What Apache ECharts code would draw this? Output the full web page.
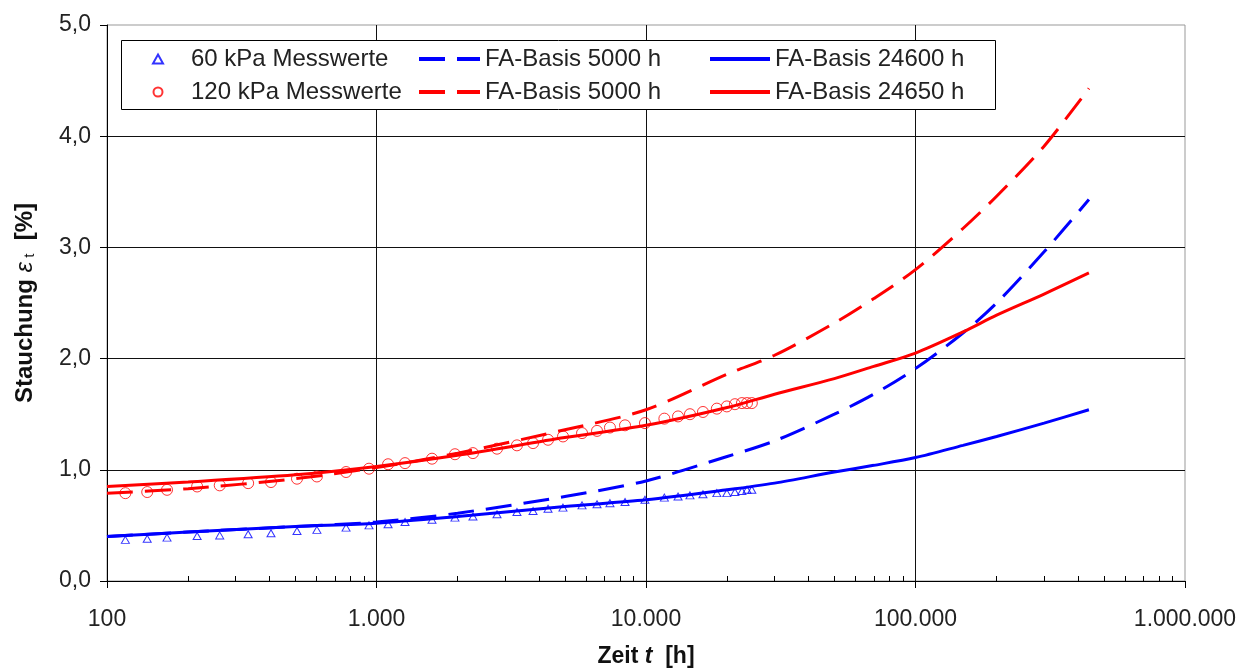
<!DOCTYPE html>
<html>
<head>
<meta charset="utf-8">
<title>Stauchung</title>
<script src="https://cdn.jsdelivr.net/npm/echarts@6.0.0/dist/echarts.min.js"></script>
<style>
  html, body { margin: 0; padding: 0; background: #fff; }
  #main { width: 1252px; height: 671px; }
</style>
</head>
<body>
<div id="main"></div>
<script>
// Messzeitpunkte [h]
var tMess = [117, 141, 167, 216, 262, 334, 406, 507, 601, 771, 938, 1104,
  1276, 1607, 1955, 2280, 2800, 3320, 3810, 4330, 4920, 5790, 6580, 7350, 8360, 9910,
  11700, 13150, 14560, 16270, 18320, 19950, 21380, 22700, 23700, 24700]
// Messwerte Stauchung [%]
var mess60 = [0.37, 0.38, 0.39, 0.405, 0.41, 0.42, 0.43, 0.45, 0.46, 0.48, 0.50, 0.51,
  0.53, 0.55, 0.57, 0.58, 0.60, 0.62, 0.63, 0.65, 0.66, 0.68, 0.69, 0.70, 0.71, 0.73,
  0.75, 0.76, 0.77, 0.78, 0.79, 0.79, 0.80, 0.81, 0.82, 0.82]
var mess120 = [0.79, 0.80, 0.82, 0.85, 0.86, 0.88, 0.89, 0.92, 0.94, 0.98, 1.01, 1.05,
  1.06, 1.10, 1.14, 1.15, 1.19, 1.22, 1.24, 1.27, 1.30, 1.33, 1.35, 1.38, 1.40, 1.42,
  1.46, 1.48, 1.50, 1.52, 1.55, 1.57, 1.59, 1.60, 1.60, 1.60]

// Zeitpunkte der Extrapolationskurven [h]
var tFit = [100, 200, 500, 1000, 2000, 5000, 10000, 20000, 30000, 50000, 70000,
  100000, 150000, 200000, 300000, 440000]
var fit60_5000 = [0.40, 0.44, 0.49, 0.53, 0.61, 0.76, 0.90, 1.12, 1.26, 1.50, 1.68,
  1.91, 2.23, 2.50, 2.96, 3.43]
var fit60_24600 = [0.40, 0.44, 0.49, 0.52, 0.58, 0.67, 0.73, 0.82, 0.88, 0.98, 1.04,
  1.11, 1.22, 1.30, 1.42, 1.54]
var fit120_5000 = [0.79, 0.83, 0.92, 1.02, 1.15, 1.36, 1.54, 1.86, 2.03, 2.32, 2.54,
  2.80, 3.17, 3.46, 3.91, 4.43]
var fit120_24650 = [0.85, 0.89, 0.955, 1.03, 1.13, 1.29, 1.40, 1.56, 1.68, 1.82, 1.93,
  2.05, 2.24, 2.39, 2.58, 2.77]

// kleine Zwischenstriche der log-Achse (2..9 je Dekade)
var minorTicks = []
for (var d = 100; d < 1000000; d *= 10) {
  for (var k = 2; k <= 9; k++) minorTicks.push(d * k)
}

var blue = '#0000ff'
var red = '#ff0000'
var font = 'Liberation Sans, Arial, sans-serif'

function pairs (xs, ys) {
  return xs.map(function (x, i) { return [x, ys[i]] })
}

function dotSep (v) {
  return String(Math.round(v)).replace(/\B(?=(\d{3})+(?!\d))/g, '.')
}

function fitLine (name, color, ys, dashed) {
  return {
    name: name,
    type: 'line',
    data: pairs(tFit, ys),
    symbol: 'none',
    smooth: 0.3,
    lineStyle: { color: color, width: 3, type: dashed ? [26, 12] : 'solid' },
    itemStyle: { color: color },
    z: 2
  }
}

var legendText = { fontFamily: font, fontSize: 24, color: '#222', lineHeight: 24 }
function legendCol (names, left, w, h) {
  return {
    orient: 'vertical',
    left: left,
    top: 47,
    padding: 0,
    itemGap: 9,
    itemWidth: w,
    itemHeight: h,
    selectedMode: false,
    textStyle: legendText,
    formatter: function (n) { return n.trim() },
    data: names,
    z: 10
  }
}

// Spalte 1: Messwerte, Symbol schmal, Text weiter rechts
var leg1 = legendCol(['60 kPa Messwerte', '120 kPa Messwerte'], 152, 10, 9)
leg1.textStyle = Object.assign({}, legendText, { padding: [0, 0, 0, 23] })
// Spalte 2: gestrichelte Linien
var leg2 = legendCol(['FA-Basis 5000 h', 'FA-Basis 5000 h '], 417, 61, 14)
leg2.lineStyle = { type: [26, 12], width: 4 }
leg2.itemStyle = { color: 'transparent', borderColor: 'transparent', borderWidth: 0 }
// Spalte 3: durchgezogene Linien
var leg3 = legendCol(['FA-Basis 24600 h', 'FA-Basis 24650 h'], 708, 60, 14)
leg3.lineStyle = { type: 'solid', width: 4 }
leg3.itemStyle = { color: 'transparent', borderColor: 'transparent', borderWidth: 0 }

var myChart = echarts.init(document.getElementById('main'))
var option = {
  animation: false,
  backgroundColor: '#fff',
  grid: {
    left: 107, right: 67, top: 25, bottom: 90,
    show: true, borderColor: '#999', borderWidth: 1,
    outerBoundsMode: 'none'
  },
  legend: [leg1, leg2, leg3],
  graphic: [{
    type: 'rect',
    left: 121, top: 40,
    shape: { width: 874, height: 69 },
    style: { fill: '#fff', stroke: '#000', lineWidth: 1 },
    z: 3
  }],
  xAxis: [{
    type: 'log',
    logBase: 10,
    min: 100,
    max: 1000000,
    position: 'bottom',
    name: '{a|Zeit }{i|t}{a|  [h]}',
    nameLocation: 'middle',
    nameGap: 64,
    nameTextStyle: {
      rich: {
        a: { fontFamily: font, fontSize: 23, fontWeight: 'bold', color: '#111' },
        i: { fontFamily: font, fontSize: 23, fontWeight: 'bold', fontStyle: 'italic', color: '#111' }
      }
    },
    axisLine: { lineStyle: { color: '#000', width: 1 } },
    axisTick: { show: true, length: 7, lineStyle: { color: '#000' } },
    axisLabel: {
      margin: 27,
      fontFamily: font, fontSize: 23, color: '#222',
      formatter: dotSep
    },
    splitLine: { show: true, showMaxLine: false, lineStyle: { color: '#111', width: 1 } }
  }, {
    // nur die kleinen Zwischenstriche nach innen
    type: 'log',
    logBase: 10,
    min: 100,
    max: 1000000,
    position: 'bottom',
    axisLine: { show: false },
    axisLabel: { show: false },
    splitLine: { show: false },
    axisTick: { show: true, inside: true, length: 5, customValues: minorTicks, lineStyle: { color: '#000' } }
  }],
  yAxis: {
    type: 'value',
    min: 0,
    max: 5,
    interval: 1,
    name: '{a|Stauchung }{e|ε}{s| t}{a|  [%]}',
    nameLocation: 'middle',
    nameGap: 70,
    nameRotate: 90,
    nameTextStyle: {
      rich: {
        a: { fontFamily: font, fontSize: 24, fontWeight: 'bold', color: '#111' },
        e: { fontFamily: font, fontSize: 24, fontStyle: 'italic', color: '#111' },
        s: { fontFamily: font, fontSize: 15, color: '#111', verticalAlign: 'bottom' }
      }
    },
    axisLine: { show: true, lineStyle: { color: '#000', width: 1 } },
    axisTick: { show: true, length: 7, lineStyle: { color: '#000' } },
    axisLabel: {
      margin: 16,
      fontFamily: font, fontSize: 23, color: '#222',
      formatter: function (v) { return v.toFixed(1).replace('.', ',') }
    },
    splitLine: { show: true, showMaxLine: false, lineStyle: { color: '#111', width: 1 } }
  },
  series: [
    {
      name: '60 kPa Messwerte',
      type: 'scatter',
      data: pairs(tMess, mess60),
      symbol: 'triangle',
      symbolSize: [8, 7],
      itemStyle: { color: 'transparent', borderColor: blue, borderWidth: 1 },
      z: 4
    },
    {
      name: '120 kPa Messwerte',
      type: 'scatter',
      data: pairs(tMess, mess120),
      symbol: 'circle',
      symbolSize: 11,
      itemStyle: { color: 'transparent', borderColor: red, borderWidth: 1 },
      z: 4
    },
    fitLine('FA-Basis 5000 h', blue, fit60_5000, true),
    fitLine('FA-Basis 5000 h ', red, fit120_5000, true),
    fitLine('FA-Basis 24600 h', blue, fit60_24600, false),
    fitLine('FA-Basis 24650 h', red, fit120_24650, false)
  ]
}
myChart.setOption(option)
</script>
</body>
</html>
